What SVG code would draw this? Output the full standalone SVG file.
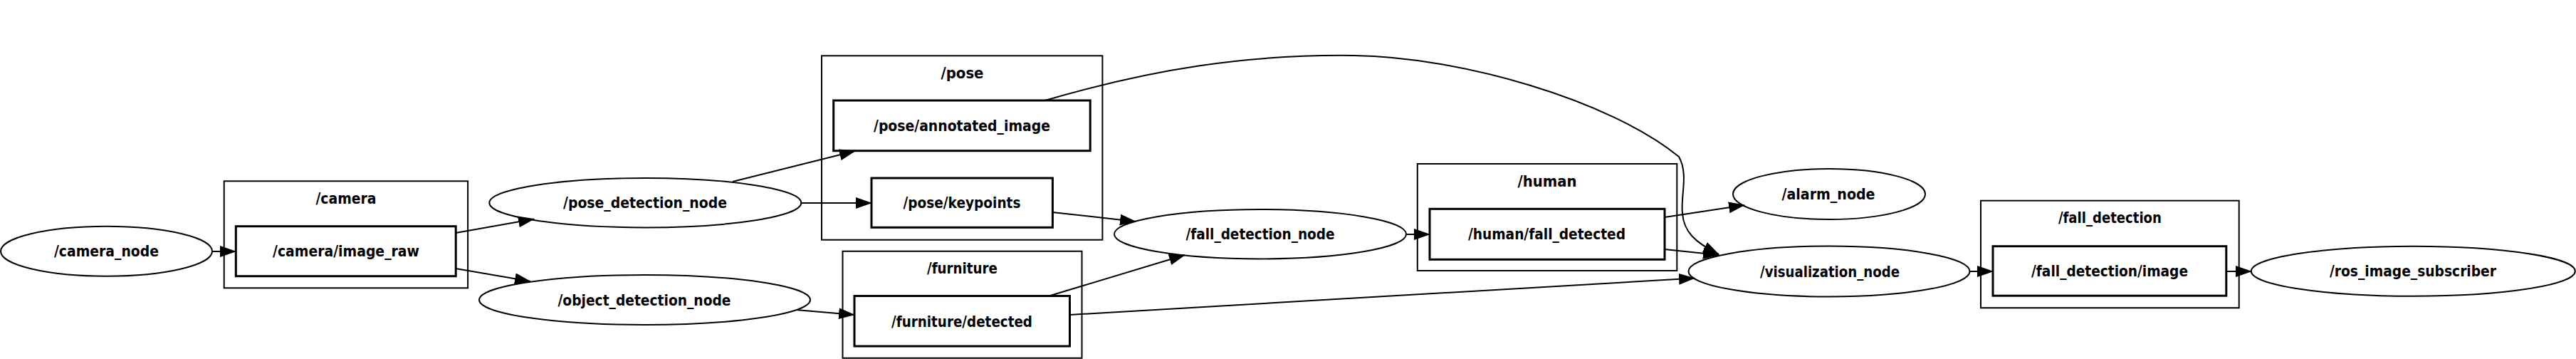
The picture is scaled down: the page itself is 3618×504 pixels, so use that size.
<svg xmlns="http://www.w3.org/2000/svg" width="3618" height="504" viewBox="0 0 3618 504">
<style>
.cl{fill:none;stroke:#000;stroke-width:2}
.el{fill:none;stroke:#000;stroke-width:2}
.tp{fill:none;stroke:#000;stroke-width:3}
.e{fill:none;stroke:#000;stroke-width:2;marker-end:url(#ah)}
text{font-family:"DejaVu Sans","Liberation Sans",sans-serif;font-weight:bold;font-size:21px;text-anchor:middle;fill:#000}
</style>
<defs>
<marker id="ah" markerWidth="23" markerHeight="16" refX="22" refY="8" orient="auto" markerUnits="userSpaceOnUse"><path d="M0,0 L23,8 L0,16 z" fill="#000"/></marker>
</defs>
<rect x="0" y="0" width="3618" height="504" fill="#fff"/>
<g id="cluster_camera"><rect class="cl" x="314.7" y="254.3" width="342.4" height="150"/><text x="486" y="286" textLength="85" lengthAdjust="spacingAndGlyphs">/camera</text></g>
<g id="cluster_pose"><rect class="cl" x="1154" y="78.3" width="394.4" height="258.4"/><text x="1351.5" y="110" textLength="60" lengthAdjust="spacingAndGlyphs">/pose</text></g>
<g id="cluster_furniture"><rect class="cl" x="1183.5" y="352.7" width="336" height="150"/><text x="1351.5" y="383.5" textLength="99" lengthAdjust="spacingAndGlyphs">/furniture</text></g>
<g id="cluster_human"><rect class="cl" x="1990.8" y="230" width="364.5" height="150"/><text x="2173" y="261.7" textLength="83" lengthAdjust="spacingAndGlyphs">/human</text></g>
<g id="cluster_fall_detection"><rect class="cl" x="2782" y="281.7" width="362.7" height="150.5"/><text x="2963.4" y="313.3" textLength="145" lengthAdjust="spacingAndGlyphs">/fall_detection</text></g>
<g id="connectors">
<path class="e" d="M298,353 L331,353"/>
<path class="e" d="M640,327 L750,307.5"/>
<path class="e" d="M640,377 L745,395"/>
<path class="e" d="M1029,255 L1201,212"/>
<path class="e" d="M1125,285 L1224,285"/>
<path class="e" d="M1118,435 L1200,442"/>
<path class="e" d="M1478,298 L1595,311"/>
<path class="e" d="M1475,415 L1664,358"/>
<path class="e" d="M1975,329 L2008,329"/>
<path class="e" d="M2338,305 L2450,288"/>
<path class="e" d="M2338,350 L2414,358"/>
<path class="e" d="M1502,442 L2380,390.5"/>
<path class="e" d="M1468,141 C1618,97 1752,76 1902,78 C2050,80 2260,140 2358,220 C2372,245 2360,275 2363,300 C2365,325 2380,340 2414,357"/>
<path class="e" d="M2766,381 L2799,381"/>
<path class="e" d="M3127,381 L3162,381"/>
</g>
<g id="camera_node"><ellipse class="el" cx="149.5" cy="352.7" rx="148.5" ry="35"/><text x="149.5" y="360.2" textLength="147" lengthAdjust="spacingAndGlyphs">/camera_node</text></g>
<g id="camera_image_raw"><rect class="tp" x="331.3" y="317.7" width="308.9" height="70"/><text x="486" y="360.2" textLength="206" lengthAdjust="spacingAndGlyphs">/camera/image_raw</text></g>
<g id="pose_detection_node"><ellipse class="el" cx="906.3" cy="284.7" rx="219" ry="34.7"/><text x="906" y="292.2" textLength="230" lengthAdjust="spacingAndGlyphs">/pose_detection_node</text></g>
<g id="object_detection_node"><ellipse class="el" cx="905.5" cy="421" rx="232.5" ry="35"/><text x="905" y="428.5" textLength="243" lengthAdjust="spacingAndGlyphs">/object_detection_node</text></g>
<g id="pose_annotated_image"><rect class="tp" x="1170.7" y="141" width="360.5" height="70.7"/><text x="1351" y="183.8" textLength="248" lengthAdjust="spacingAndGlyphs">/pose/annotated_image</text></g>
<g id="pose_keypoints"><rect class="tp" x="1224" y="250" width="254.4" height="69.3"/><text x="1351" y="292.2" textLength="165" lengthAdjust="spacingAndGlyphs">/pose/keypoints</text></g>
<g id="furniture_detected"><rect class="tp" x="1200" y="415.5" width="302.5" height="70.5"/><text x="1351" y="458.5" textLength="198" lengthAdjust="spacingAndGlyphs">/furniture/detected</text></g>
<g id="fall_detection_node"><ellipse class="el" cx="1770" cy="328.7" rx="205" ry="34.7"/><text x="1770" y="336.2" textLength="209" lengthAdjust="spacingAndGlyphs">/fall_detection_node</text></g>
<g id="human_fall_detected"><rect class="tp" x="2008" y="293.3" width="330" height="71"/><text x="2172.5" y="336.3" textLength="221" lengthAdjust="spacingAndGlyphs">/human/fall_detected</text></g>
<g id="alarm_node"><ellipse class="el" cx="2569" cy="272.5" rx="135" ry="35.5"/><text x="2568" y="280" textLength="131" lengthAdjust="spacingAndGlyphs">/alarm_node</text></g>
<g id="visualization_node"><ellipse class="el" cx="2569" cy="381" rx="197.5" ry="35.5"/><text x="2570" y="388.5" textLength="196" lengthAdjust="spacingAndGlyphs">/visualization_node</text></g>
<g id="fall_detection_image"><rect class="tp" x="2799" y="345.7" width="327.8" height="69.5"/><text x="2963" y="388" textLength="220" lengthAdjust="spacingAndGlyphs">/fall_detection/image</text></g>
<g id="ros_image_subscriber"><ellipse class="el" cx="3389.3" cy="380.7" rx="227.5" ry="35"/><text x="3389" y="388.2" textLength="234" lengthAdjust="spacingAndGlyphs">/ros_image_subscriber</text></g>
</svg>
